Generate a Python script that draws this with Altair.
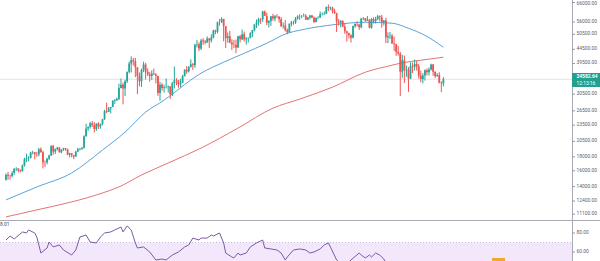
import altair as alt
import pandas as pd

# ---------------- data (BTC/USD daily, 2020-11-08 .. 2021-06-09) ----------------
first_open = 14830
nov_close = [15480,15330,15300,15700,16280,16320,16070,15960,16730,17650,17800,17820,18650,18700,18420,18370,19160,18720,17150,17140,17720,18180,19700]
nov_high  = [15650,15840,15480,15950,16340,16480,16330,16170,16870,17850,18480,18110,18800,18950,18740,18770,19420,19480,18920,17440,17850,18340,19860]
nov_low   = [14720,14830,14850,15130,15460,15970,15780,15800,15880,16570,17220,17340,17740,18360,17640,18000,18080,18620,16330,16530,16880,17520,18170]

dec_close = [18800,19200,19450,18700,19150,19360,19170,18320,18550,18250,18030,18800,19170,19270,19440,21380,22850,23130,23870,23480,22750,23820,23240,23730,24710,26450,26270,27040,27360,28840,29000]
dec_high  = [19900,19310,19560,19500,19170,19410,19390,19290,18630,18560,18270,18940,19410,19350,19550,21560,23770,23280,24170,24300,24100,23820,24090,23800,24760,26720,28370,27380,27390,28990,29300]
dec_low   = [18330,18420,18990,18630,18540,18920,18930,18260,17930,17910,17640,18020,18770,19000,19060,19290,21310,22360,22800,23140,22080,22370,22730,22800,23470,24560,25990,26250,25920,27390,28100]

jan_close = [29370,32130,33000,31990,33990,36800,39470,40670,40240,38240,35540,34000,37390,39150,36830,36070,35550,36250,36030,35550,30820,32990,32100,32290,32370,32570,30440,33470,34310,34270,33110]
jan_high  = [29600,33300,34800,33600,34440,36880,40180,41950,41400,41380,38260,36600,37810,40100,39700,37900,36800,37300,37850,36400,35600,33830,33460,33000,34800,32800,32560,33800,38500,34900,34300]
jan_low   = [28800,29000,32000,28000,30000,33500,36300,36600,38800,35200,30500,32600,32400,36700,34500,35500,33900,34400,35800,33400,30070,28850,31400,30900,31980,30900,29240,30000,32000,32900,32200]

feb_close = [33540,35510,37470,36930,38290,39240,38900,46200,46480,44840,47970,47510,47100,48720,47940,49130,52120,51590,55930,55920,57490,54090,48890,49690,47070,46340,46190,45140]
feb_high  = [34700,35900,37600,38600,38700,40900,39700,46600,48100,47200,48600,48900,48100,49600,49000,50500,52500,52500,56200,57500,58300,57500,54100,51300,52000,48400,48200,48300]
feb_low   = [32300,33500,35400,36200,36600,38200,37400,38100,45200,43800,44200,46200,46400,47000,45000,47100,48800,50500,50900,54300,55500,47600,45000,47000,46800,44200,45000,43100]

mar_close = [49630,48380,50540,48370,48760,48880,50970,52380,54880,55860,57330,57200,61190,59000,55640,56470,58770,57630,58730,58680,57350,54100,54340,52300,51300,55190,55830,55770,57630,58730,58810]
mar_high  = [49790,50200,52600,51700,49400,49200,51400,52400,54900,57200,58100,57900,61600,61700,60600,56900,58900,60000,59400,59800,58500,58400,55800,57000,53000,55300,56500,56600,58400,59300,59800]
mar_low   = [45000,47100,48100,47500,46300,47100,48900,49300,51800,53200,54300,55100,56100,59000,54600,53500,54200,56600,56400,57900,55700,53700,53000,51700,50500,51300,53900,54700,55100,57100,57000]

apr_close = [58930,59030,57070,58200,59120,58020,55950,58080,58100,59770,59800,59990,63500,62980,63200,61460,60380,56210,55720,56470,53900,51760,51090,50050,49000,54030,55030,54820,53550,57750]
apr_high  = [59400,60200,59800,58500,59500,59500,58700,58200,58800,61200,60700,61200,63800,64850,63800,63600,62600,60500,57500,57000,56800,55500,52100,51200,50500,54400,55400,56400,55200,57900]
apr_low   = [57800,58500,57000,56900,57200,57800,55500,55800,57300,58000,59200,59400,60000,61300,62000,60200,60000,51500,54300,53500,53600,50700,47500,48800,47100,48800,53300,53900,52400,53100]

may_close = [57830,56630,57200,53330,57420,56400,57350,58800,58230,55850,56700,49150,49700,49880,46760,46450,43540,42910,36830,40560,37300,37540,34770,38700,38400,39290,38550,35660,34650,35680,37340]
may_high  = [58400,57900,58900,57200,57900,58300,58500,59500,59200,59500,56900,58000,51300,51500,50600,49500,46600,45800,43500,42500,42200,38800,38300,39900,39800,40800,40400,39300,37200,36400,37500]
may_low   = [56900,56100,56500,53100,52900,55300,55300,56900,56300,53400,54400,46900,46900,48500,46600,43900,42100,42200,30000,35000,33500,35300,31100,34600,36400,37200,37200,34800,33700,33400,34200]

jun_close = [36690,37570,39190,36830,35520,35800,33550,33400,34582.64]
jun_high  = [37900,38200,39400,39300,37000,36400,36700,34000,35200]
jun_low   = [35700,35700,37200,35600,34900,35300,33400,31000,32600]

# moving averages: (candle index, price)
ma50_idx   = [0, 15, 32, 47, 58, 68, 77, 79, 95, 106, 116, 127, 137, 143, 161, 175, 188, 196, 204, 213]
ma50_val   = [12520, 13960, 15710, 19050, 22160, 26220, 29000, 29740, 36390, 39910, 43040, 46820, 50930, 52240, 54900, 55890, 55430, 53130, 50080, 45270]
ma200_idx  = [0, 15, 32, 47, 55, 66, 79, 95, 113, 130, 143, 159, 175, 188, 192, 202, 213]
ma200_val  = [10850, 11510, 12310, 13270, 13960, 15440, 17080, 19370, 22920, 27110, 29250, 32350, 36690, 38920, 39580, 40590, 41630]

# RSI(14): (candle index, value)
rsi_idx = [0,2,4,8,10,11,14,15,17,20,21,23,26,28,32,34,36,39,41,44,46,48,51,53,56,57,59,61,63,64,67,70,73,76,78,81,84,87,89,91,94,95,98,100,101,104,106,107,110,111,113,114,117,119,122,125,126,129,132,134,136,137,140,143,146,148,150,153,155,157,158,161,164,166,168,172,173,175,177,178,180,182,184,186,188,190,192,195,198,201,204,207,210,213]
rsi_val = [72.6,76.8,73.7,81.1,80,83.2,80,75.8,58.9,64.2,70.5,65.3,67.4,62.1,56.8,62.1,75.8,77.9,70.5,69.5,75.8,80,81.1,83.2,86.3,81.1,87.4,83.2,69.5,64.2,65.3,60,51.6,52.6,51.6,56.8,60,65.3,67.4,74.7,72.6,74.7,74.7,77.9,76.8,80,69.5,58.9,54.7,53.7,58.9,56.8,58.9,65.3,69.5,72.6,64.2,63.2,62.1,58.9,51.6,54.7,62.1,63.2,62.1,58.9,60,63.2,67.4,69.5,65.3,51.6,46,47,51.6,58.9,56.8,53.7,56.8,54.7,58.9,56.8,52.6,45,40,35,25,33,30,36,38,37,40,39]

top_tick = 66000
price_ticks = [56000, 50500, 44500, 39500, 30500, 26500, 23500, 20500, 18000, 16000, 14000, 12400, 11100]
rsi_ticks = [80, 60]
last_price = 34582.64
countdown = "12:13:16"
rsi_corner = "8.01"

# ---------------- tables ----------------
closes = nov_close + dec_close + jan_close + feb_close + mar_close + apr_close + may_close + jun_close
highs = nov_high + dec_high + jan_high + feb_high + mar_high + apr_high + may_high + jun_high
lows = nov_low + dec_low + jan_low + feb_low + mar_low + apr_low + may_low + jun_low
opens = [first_open] + closes[:-1]

rows = []
for i, (o, h, l, c) in enumerate(zip(opens, highs, lows, closes)):
    rows.append({"i": i, "o": o, "c": c, "h": max(h, o, c), "l": min(l, o, c),
                 "dir": "up" if c >= o else "down"})
candles = pd.DataFrame(rows)
ma50 = pd.DataFrame({"i": ma50_idx, "v": ma50_val})
ma200 = pd.DataFrame({"i": ma200_idx, "v": ma200_val})
rsi = pd.DataFrame({"i": rsi_idx, "v": rsi_val})
pticks = pd.DataFrame({"v": price_ticks, "t": [f"{v:.2f}" for v in price_ticks]})
ptop = pd.DataFrame({"v": [top_tick], "t": [f"{top_tick:.2f}"]})
rticks = pd.DataFrame({"v": rsi_ticks, "t": [f"{v:.2f}" for v in rsi_ticks]})

GREEN = "#26a69a"
RED = "#ef5350"
AX = "#5d606b"
FONT = "Roboto"
FS = 4.9

x_scale = alt.Scale(domain=[-0.478, 273.2], range=[0, 572], nice=False, zero=False)
p_scale = alt.Scale(type="log", domain=[10570, 67400], range=[220, 0], nice=False)
r_scale = alt.Scale(domain=[50.5, 93.7], range=[261, 220], nice=False, zero=False)

X = alt.X("i:Q", scale=x_scale, axis=None)
YP = lambda f: alt.Y(f, scale=p_scale, axis=None)
YR = lambda f: alt.Y(f, scale=r_scale, axis=None)
col = alt.Color("dir:N", scale=alt.Scale(domain=["up", "down"], range=[GREEN, RED]), legend=None)

band = alt.Chart(pd.DataFrame({"hi": [70], "lo": [30]})).mark_rect(color="#f3e8fb").encode(
    x=alt.value(0), x2=alt.value(572), y=YR("hi:Q"), y2="lo:Q")
band_line = alt.Chart(pd.DataFrame({"v": [70]})).mark_rule(color="#c9b7dd", strokeDash=[1, 2], strokeWidth=1).encode(
    x=alt.value(0), x2=alt.value(572), y=YR("v:Q"))
rsi_line = alt.Chart(rsi).mark_line(color="#7b5aa6", strokeWidth=1, clip=True).encode(x=X, y=YR("v:Q"))

price_line = alt.Chart(pd.DataFrame({"v": [last_price]})).mark_rule(color="#dbe3ea", strokeWidth=1).encode(
    x=alt.value(0), x2=alt.value(572), y=YP("v:Q"))
red_ma = alt.Chart(ma200).mark_line(color="#e57373", strokeWidth=1, interpolate="monotone").encode(x=X, y=YP("v:Q"))
blue_ma = alt.Chart(ma50).mark_line(color="#5aa3db", strokeWidth=1, interpolate="monotone").encode(x=X, y=YP("v:Q"))

wicks = alt.Chart(candles).mark_rule(strokeWidth=1).encode(x=X, y=YP("l:Q"), y2="h:Q", color=col)
bodies = alt.Chart(candles).mark_bar(size=1.8).encode(x=X, y=YP("o:Q"), y2="c:Q", color=col)

plabels = alt.Chart(pticks).mark_text(align="left", baseline="middle", fontSize=FS, font=FONT, color=AX).encode(
    x=alt.value(576.5), y=YP("v:Q"), text="t:N")
ptoplabel = alt.Chart(ptop).mark_text(align="left", baseline="middle", fontSize=FS, font=FONT, color=AX, dy=2).encode(
    x=alt.value(576.5), y=YP("v:Q"), text="t:N")
pticks_m = alt.Chart(pticks).mark_rule(color="#9598a1").encode(x=alt.value(572), x2=alt.value(575), y=YP("v:Q"))
ptop_m = alt.Chart(ptop).mark_rule(color="#9598a1").encode(x=alt.value(572), x2=alt.value(575), y=YP("v:Q"))
rlabels = alt.Chart(rticks).mark_text(align="left", baseline="middle", fontSize=FS, font=FONT, color=AX).encode(
    x=alt.value(576.5), y=YR("v:Q"), text="t:N")
rticks_m = alt.Chart(rticks).mark_rule(color="#9598a1").encode(x=alt.value(572), x2=alt.value(575), y=YR("v:Q"))

sep = alt.Chart(pd.DataFrame({"a": [0]})).mark_rule(color="#a9abb2", strokeWidth=1).encode(
    x=alt.value(0), x2=alt.value(600), y=alt.value(220.5))
vaxis = alt.Chart(pd.DataFrame({"a": [0]})).mark_rule(color="#a9abb2", strokeWidth=1).encode(
    x=alt.value(572.5), y=alt.value(0), y2=alt.value(261))

box = alt.Chart(pd.DataFrame({"a": [0]})).mark_rect(color="#22a08f").encode(
    x=alt.value(572), x2=alt.value(600), y=alt.value(73), y2=alt.value(87))
box_t1 = alt.Chart(pd.DataFrame({"t": [f"{last_price:.2f}"]})).mark_text(
    align="left", baseline="middle", fontSize=FS, font=FONT, color="white", fontWeight="bold").encode(
    x=alt.value(576.5), y=alt.value(77), text="t:N")
box_t2 = alt.Chart(pd.DataFrame({"t": [countdown]})).mark_text(
    align="left", baseline="middle", fontSize=FS, font=FONT, color="white").encode(
    x=alt.value(576.5), y=alt.value(83.5), text="t:N")
corner = alt.Chart(pd.DataFrame({"t": [rsi_corner]})).mark_text(
    align="left", baseline="middle", fontSize=FS, font=FONT, color="#444").encode(
    x=alt.value(0), y=alt.value(224.5), text="t:N")
marker = alt.Chart(pd.DataFrame({"a": [0]})).mark_rect(color="#f0a830").encode(
    x=alt.value(492), x2=alt.value(505), y=alt.value(258), y2=alt.value(261))

chart = alt.layer(
    band, band_line, rsi_line, marker, price_line, red_ma, blue_ma, wicks, bodies,
    sep, vaxis, pticks_m, ptop_m, plabels, ptoplabel, rticks_m, rlabels, box, box_t1, box_t2, corner
).resolve_scale(y="independent").properties(
    width=600, height=261, padding=0, autosize="none", background="white"
).configure_view(stroke=None)

chart.save("out.html", embed_options={"renderer": "svg", "actions": False})
